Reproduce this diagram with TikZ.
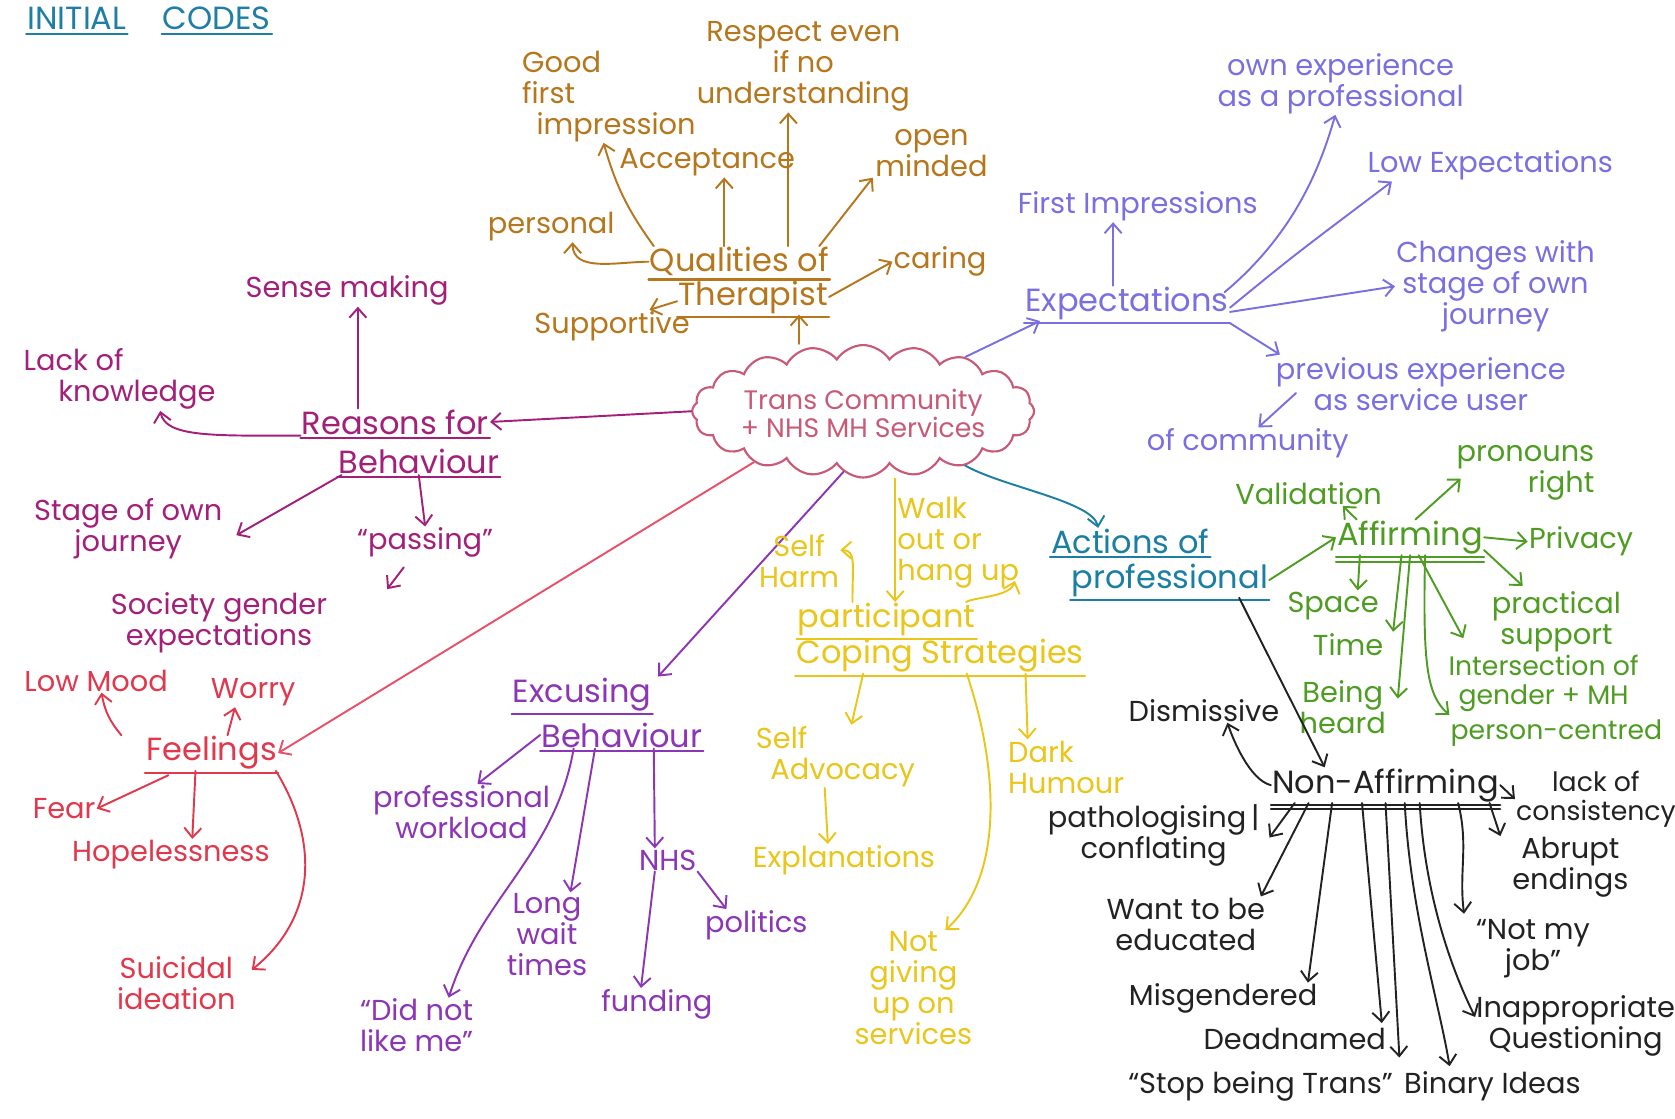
\documentclass[tikz,border=0pt]{standalone}
\usepackage{fontspec}
\setmainfont{Poppins}
\usetikzlibrary{arrows.meta,shapes.symbols,calc}
\definecolor{cTitle}{HTML}{1F7EA6}
\definecolor{cBrown}{HTML}{B5761C}
\definecolor{cCloud}{HTML}{C85A78}
\definecolor{cRsn}{HTML}{A3207A}
\definecolor{cFeel}{HTML}{E0384C}
\definecolor{cFeelL}{HTML}{E8506A}
\definecolor{cExc}{HTML}{8C35B5}
\definecolor{cYel}{HTML}{EAC51A}
\definecolor{cExp}{HTML}{7A6FE0}
\definecolor{cAct}{HTML}{1A7FA3}
\definecolor{cAff}{HTML}{4E9C22}
\definecolor{cNon}{HTML}{222222}
\begin{document}
\begin{tikzpicture}[x=1pt,y=-1pt,
  every node/.style={inner sep=1pt, align=center},
  lbl/.style={font=\fontsize{27}{29}\selectfont},
  sml/.style={font=\fontsize{25}{27}\selectfont},
  head/.style={font=\fontsize{30}{32}\selectfont},
  arr/.style={-{Straight Barb[length=9pt,width=16pt]}, line width=1.8pt, line cap=round, line join=round},
  ul/.style={line width=2pt, line cap=round},
]
\useasboundingbox[fill=white] (0,0) rectangle (1568,1047);

% ---------- title
\begin{scope}[color=cTitle]
\node[head] (t1) at (72,17) {INITIAL};
\node[head] (t2) at (203,17) {CODES};
\draw[ul] ([yshift=-3]t1.south west) -- ([yshift=-3]t1.south east);
\draw[ul] ([yshift=-3]t2.south west) -- ([yshift=-3]t2.south east);
\end{scope}

% ---------- cloud
\node[cloud, draw=cCloud, line width=2pt, cloud puffs=20, cloud puff arc=115, aspect=2.6,
      minimum width=320, minimum height=124, inner sep=0pt] (cloud) at (808,385) {};
\node[sml, text=cCloud] (cloudtxt) at (808,387) {Trans Community\\+ NHS MH Services};

% ---------- qualities of therapist
\begin{scope}[color=cBrown]
\node[head] (q1) at (692,245) {Qualities of};
\node[head] (q2) at (705,278) {Therapist};
\draw[ul] ([yshift=-2]q1.south west) -- ([yshift=-2]q1.south east);
\draw[ul] ([yshift=-2]q2.south west) -- ([yshift=-2]q2.south east);
\node[lbl, align=left] (gfi) at (570,90) {Good\\first\\\hspace*{0.5em}impression};
\node[lbl] (resp) at (752,62) {Respect even\\if no\\understanding};
\node[lbl] (acc) at (662,152) {Acceptance};
\node[lbl] (open) at (872,143) {open\\minded};
\node[lbl] (pers) at (516,212) {personal};
\node[lbl] (caring) at (880,245) {caring};
\node[lbl] (supp) at (573,305) {Supportive};
\draw[arr] ([xshift=5]q1.north west) to[bend left=10] ([xshift=-5]gfi.south);
\draw[arr] ([xshift=-14]q1.north) -- ([xshift=16]acc.south);
\draw[arr] ([xshift=46]q1.north) -- ([xshift=-14]resp.south);
\draw[arr] ([xshift=-10]q1.north east) -- ([xshift=-55]open.south);
\draw[arr] (q1.west) to[out=180,in=-90] ([xshift=20]pers.south);
\draw[arr] (q2.east) -- (caring.west);
\draw[arr] ([yshift=-4]q2.west) -- ([xshift=35]supp.north);
\draw[arr] ([xshift=-60]cloud.north) -- ([xshift=43]q2.south);
\end{scope}

% ---------- reasons for behaviour
\begin{scope}[color=cRsn]
\node[head] (rb1) at (370,395) {Reasons for};
\node[head] (rb2) at (392,432) {Behaviour};
\draw[ul] ([yshift=-2]rb1.south west) -- ([yshift=-2]rb1.south east);
\draw[ul] ([yshift=-2]rb2.south west) -- ([yshift=-2]rb2.south east);
\node[lbl] (sense) at (325,272) {Sense making};
\node[lbl, align=left] (lack) at (112,355) {Lack of\\\hspace*{1.2em}knowledge};
\node[lbl] (stage) at (120,495) {Stage of own\\journey};
\node[lbl] (passing) at (398,508) {``passing''};
\node[lbl] (society) at (205,583) {Society gender\\expectations};
\draw[arr] ([xshift=-35]rb1.north) -- ([xshift=10]sense.south);
\draw[arr] (rb1.south west) .. controls +(-80,0) and +(5,25) .. ([xshift=38]lack.south);
\draw[arr] ([xshift=4]rb2.south west) -- ([xshift=12,yshift=-6]stage.east);
\draw[arr] (rb2.south) -- (passing.north);
\draw[arr] ([xshift=-20,yshift=-8]passing.south) -- ([xshift=55,yshift=2]society.north east);
\draw[arr] (cloud.west) -- (rb1.east);
\end{scope}

% ---------- feelings
\begin{scope}[color=cFeel]
\node[head] (feel) at (198,705) {Feelings};
\draw[ul] ([yshift=-2]feel.south west) -- ([yshift=-2]feel.south east);
\node[lbl] (low) at (90,637) {Low Mood};
\node[lbl] (worry) at (237,648) {Worry};
\node[lbl] (fear) at (60,757) {Fear};
\node[lbl] (hope) at (160,800) {Hopelessness};
\node[lbl] (suic) at (165,920) {Suicidal\\ideation};
\draw[arr] ([xshift=-22]feel.north west) to[bend left=15] ([xshift=5]low.south);
\draw[arr] ([xshift=15]feel.north) -- ([xshift=-17]worry.south);
\draw[arr] ([xshift=22,yshift=-4]feel.south west) -- (fear.east);
\draw[arr] ([xshift=-15]feel.south) -- ([xshift=20]hope.north);
\draw[arr] ([xshift=-2]feel.south east) .. controls (300,790) and (295,860) .. ([xshift=14,yshift=-14]suic.north east);
\draw[arr, color=cFeelL] (cloud.205) -- (feel.east);
\end{scope}

% ---------- excusing behaviour
\begin{scope}[color=cExc]
\node[head] (ex1) at (545,650) {Excusing};
\node[head] (ex2) at (582,688) {Behaviour};
\draw[ul] ([yshift=-2]ex1.south west) -- ([yshift=-2]ex1.south east);
\draw[ul] ([yshift=-2]ex2.south west) -- ([yshift=-2]ex2.south east);
\node[lbl] (prof) at (432,760) {professional\\workload};
\node[lbl] (long) at (512,875) {Long\\wait\\times};
\node[lbl] (dnl) at (390,960) {``Did not\\like me''};
\node[lbl] (nhs) at (625,805) {NHS};
\node[lbl] (pol) at (708,866) {politics};
\node[lbl] (fund) at (615,940) {funding};
\draw[arr] (cloud.252) -- ([xshift=5]ex1.north east);
\draw[arr] (ex2.west) -- ([xshift=15]prof.north);
\draw[arr] ([xshift=-25]ex2.south) -- ([xshift=22]long.north);
\draw[arr] ([xshift=-45]ex2.south) .. controls (520,800) and (450,840) .. ([xshift=30]dnl.north);
\draw[arr] ([xshift=30]ex2.south) -- ([xshift=-12]nhs.north);
\draw[arr] (nhs.south east) -- ([xshift=-28]pol.north);
\draw[arr] ([xshift=-12]nhs.south) -- ([xshift=-15]fund.north);
\end{scope}

% ---------- coping strategies
\begin{scope}[color=cYel]
\node[head] (cp1) at (830,580) {participant};
\node[head] (cp2) at (880,614) {Coping Strategies};
\draw[ul] ([yshift=-2]cp1.south west) -- ([yshift=-2]cp1.south east);
\draw[ul] ([yshift=-2]cp2.south west) -- ([yshift=-2]cp2.south east);
\node[lbl] (sh) at (748,525) {Self\\Harm};
\node[lbl, align=left] (walk) at (897,508) {Walk\\out or\\hang up};
\node[lbl, align=left] (sadv) at (782,708) {Self\\\hspace*{0.5em}Advocacy};
\node[lbl] (expl) at (790,805) {Explanations};
\node[lbl, align=left] (dark) at (998,718) {Dark\\Humour};
\node[lbl] (notg) at (855,925) {Not\\giving\\up on\\services};
\draw[arr] ([xshift=30]cloud.south) -- ([xshift=8]cp1.north);
\draw[arr] ([xshift=-32]cp1.north) .. controls +(0,-35) and +(15,0) .. ([yshift=10]sh.east);
\draw[arr] ([xshift=-10]cp1.north east) .. controls +(10,-5) and +(-5,15) .. ([xshift=-5,yshift=8]walk.south east);
\draw[arr] ([xshift=-72]cp2.south) -- ([xshift=15]sadv.north);
\draw[arr] ([xshift=-10]sadv.south) -- ([xshift=-15]expl.north);
\draw[arr] ([xshift=80]cp2.south) -- ([xshift=-36]dark.north);
\draw[arr] ([xshift=25]cp2.south) .. controls (935,720) and (940,820) .. ([xshift=30]notg.north);
\end{scope}

% ---------- expectations
\begin{scope}[color=cExp]
\node[head] (exp) at (1055,284) {Expectations};
\draw[ul] ([yshift=-2]exp.south west) -- ([yshift=-2]exp.south east);
\node[lbl] (fi) at (1065,193) {First Impressions};
\node[lbl] (own) at (1255,78) {own experience\\as a professional};
\node[lbl] (lowe) at (1395,155) {Low Expectations};
\node[lbl] (chg) at (1400,268) {Changes with\\stage of own\\journey};
\node[lbl] (prev) at (1330,360) {previous experience\\as service user};
\node[lbl] (ofc) at (1168,415) {of community};
\draw[arr] (cloud.28) -- ([xshift=15]exp.south west);
\draw[arr] ([xshift=-13]exp.north) -- ([xshift=-23]fi.south);
\draw[arr] ([xshift=-5,yshift=-6]exp.north east) .. controls (1210,220) and (1235,160) .. ([xshift=-5]own.south);
\draw[arr] ([yshift=-4]exp.east) .. controls (1210,240) .. ([xshift=24]lowe.south west);
\draw[arr] ([yshift=-8]exp.east) -- (chg.west);
\draw[arr] ([yshift=-2]exp.south east) -- ([xshift=5,yshift=2]prev.north west);
\draw[arr] ([xshift=20,yshift=-8]prev.west) -- ([xshift=10]ofc.north);
\end{scope}

% ---------- actions of professional
\begin{scope}[color=cAct]
\node[head] (ac1) at (1058,507) {Actions of};
\node[head] (ac2) at (1095,543) {professional};
\draw[ul] ([yshift=-2]ac1.south west) -- ([yshift=-2]ac1.south east);
\draw[ul] ([yshift=-2]ac2.south west) -- ([yshift=-2]ac2.south east);
\draw[arr] (cloud.-28) .. controls +(35,20) and +(-5,-25) .. ([xshift=-30]ac1.north);
\end{scope}

% ---------- affirming
\begin{scope}[color=cAff]
\node[head] (aff) at (1320,503) {Affirming};
\draw[ul] ([yshift=-2]aff.south west) -- ([yshift=-2]aff.south east);
\draw[ul] ([yshift=-6]aff.south west) -- ([yshift=-6]aff.south east);
\node[lbl] (val) at (1225,462) {Validation};
\node[lbl, align=right] (pron) at (1428,443) {pronouns\\right};
\node[lbl] (priv) at (1480,507) {Privacy};
\node[lbl] (prac) at (1457,582) {practical\\support};
\node[lbl] (space) at (1248,567) {Space};
\node[lbl] (time) at (1262,603) {Time};
\node[lbl] (heard) at (1257,662) {Being\\heard};
\node[sml] (inter) at (1445,640) {Intersection of\\gender + MH};
\node[sml] (pc) at (1457,686) {person-centred};
\draw[arr] (ac2.east) -- (aff.west);
\draw[arr] ([xshift=-50]aff.north) -- ([xshift=32]val.south);
\draw[arr] ([xshift=5]aff.north) -- ([xshift=5,yshift=-5]pron.west);
\draw[arr] (aff.east) -- (priv.west);
\draw[arr] ([yshift=-12]aff.east) -- ([xshift=30,yshift=4]prac.north west);
\draw[arr] ([xshift=-47]aff.south) -- ([xshift=23]space.north);
\draw[arr] ([xshift=-8]aff.south) -- ([xshift=8]time.north east);
\draw[arr] ([xshift=0]aff.south) -- ([xshift=10,yshift=8]heard.east);
\draw[arr] ([xshift=8]aff.south) -- ([xshift=15,yshift=15]inter.north west);
\draw[arr] ([xshift=14]aff.south) .. controls (1332,620) and (1335,650) .. ([yshift=3]pc.north west);
\end{scope}

% ---------- non-affirming
\begin{scope}[color=cNon]
\node[head] (non) at (1297,735) {Non-Affirming};
\draw[ul] ([yshift=-2]non.south west) -- ([yshift=-2]non.south east);
\draw[ul] ([yshift=-6]non.south west) -- ([yshift=-6]non.south east);
\node[lbl] (dism) at (1127,665) {Dismissive};
\node[sml] (lack2) at (1494,748) {lack of\\consistency};
\node[lbl] (path) at (1080,782) {pathologising\,|\\conflating};
\node[lbl] (want) at (1110,865) {Want to be\\educated};
\node[lbl] (misg) at (1145,935) {Misgendered};
\node[lbl] (dead) at (1212,973) {Deadnamed};
\node[lbl] (stop) at (1180,1017) {``Stop being Trans''};
\node[lbl] (bin) at (1397,1017) {Binary Ideas};
\node[lbl] (inap) at (1475,960) {Inappropriate\\Questioning};
\node[lbl] (abr) at (1470,812) {Abrupt\\endings};
\node[lbl] (job) at (1435,888) {``Not my\\job''};
\draw[arr] ([xshift=65]ac2.south) .. controls +(30,60) and +(-20,-40) .. ([xshift=-57]non.north);
\draw[arr] (non.west) .. controls +(-20,-5) and +(5,15) .. ([xshift=22]dism.south);
\draw[arr] (non.east) -- (lack2.west);
\draw[arr] ([xshift=-85]non.south) -- ([xshift=8,yshift=-2]path.east);
\draw[arr] ([xshift=-72]non.south) -- ([xshift=-5]want.north east);
\draw[arr] ([xshift=-50]non.south) -- ([xshift=-10]misg.north east);
\draw[arr] ([xshift=-22]non.south) -- ([xshift=-5,yshift=4]dead.north east);
\draw[arr] ([xshift=0]non.south) -- ([xshift=5,yshift=12]stop.north east);
\draw[arr] ([xshift=18]non.south) .. controls +(5,100) and +(-10,-60) .. ([xshift=-40,yshift=4]bin.north);
\draw[arr] ([xshift=32]non.south) .. controls +(5,90) and +(-20,-40) .. ([yshift=8]inap.west);
\draw[arr] ([xshift=-10]non.south east) -- ([xshift=-10]abr.north west);
\draw[arr] ([xshift=68]non.south) .. controls +(10,40) and +(-5,-40) .. ([xshift=-10,yshift=4]job.north west);
\end{scope}
\end{tikzpicture}
\end{document}
